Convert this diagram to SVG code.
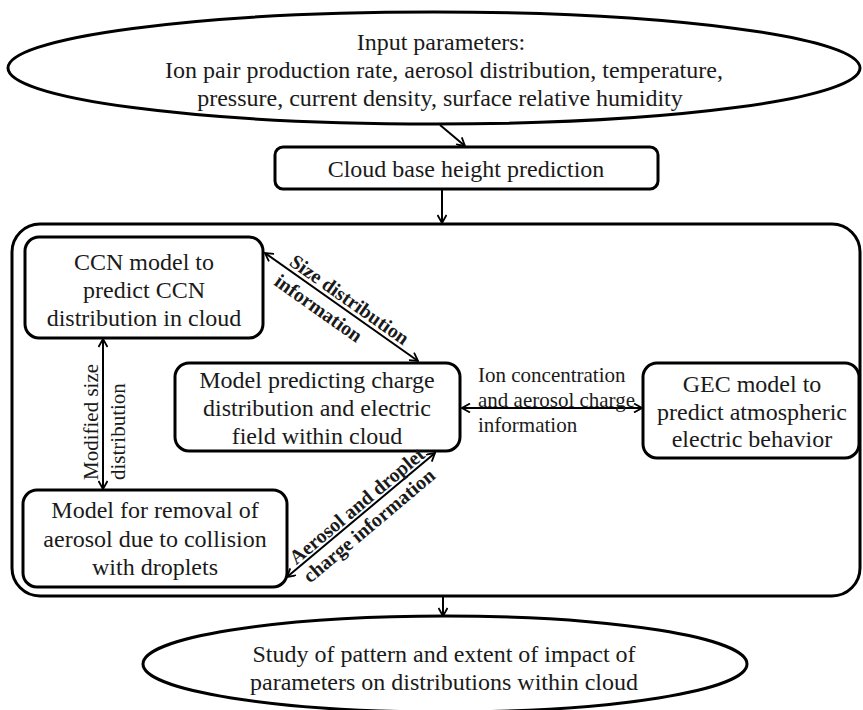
<svg xmlns="http://www.w3.org/2000/svg" width="863" height="710" viewBox="0 0 863 710">
<defs>
<marker id="ah" viewBox="0 0 10 10" refX="9" refY="5" markerWidth="10" markerHeight="10" markerUnits="userSpaceOnUse" orient="auto-start-reverse">
<path d="M1,0.5 L9,5 L1,9.5" fill="none" stroke="#000" stroke-width="1.8"/>
</marker>
</defs>
<style>
.shape{fill:#fff;stroke:#000;stroke-width:3}
.t{font-family:"Liberation Serif","Times New Roman",serif;fill:#1a1a1a;text-anchor:middle;font-size:24px}
.lbl{font-family:"Liberation Serif","Times New Roman",serif;fill:#1a1a1a;font-size:21px}
.dl{font-family:"Liberation Serif","Times New Roman",serif;fill:#1a1a1a;font-size:20px;font-weight:bold;text-anchor:middle}
.c{fill:none;stroke:#000;stroke-width:2}
</style>
<rect width="863" height="710" fill="#fff"/>

<g id="container">
<rect class="shape" x="12" y="224" width="848" height="372" rx="28"/>
</g>

<g id="input">
<ellipse class="shape" cx="434" cy="68" rx="426" ry="56"/>
<text class="t" x="441" y="50">Input parameters:</text>
<text class="t" x="444" y="78">Ion pair production rate, aerosol distribution, temperature,</text>
<text class="t" x="440" y="106">pressure, current density, surface relative humidity</text>
</g>

<g id="cloudbase">
<rect class="shape" x="275" y="147" width="383" height="42" rx="8"/>
<text class="t" x="466" y="177">Cloud base height prediction</text>
</g>

<g id="ccn">
<rect class="shape" x="25" y="237" width="238" height="101" rx="14"/>
<text class="t" x="144" y="270">CCN model to</text>
<text class="t" x="144" y="298">predict CCN</text>
<text class="t" x="144" y="326">distribution in cloud</text>
</g>

<g id="charge">
<rect class="shape" x="175" y="363" width="285" height="88" rx="14"/>
<text class="t" x="317" y="388">Model predicting charge</text>
<text class="t" x="317" y="416">distribution and electric</text>
<text class="t" x="317" y="444">field within cloud</text>
</g>

<g id="gec">
<rect class="shape" x="643" y="363" width="216" height="95" rx="14"/>
<text class="t" x="752" y="392">GEC model to</text>
<text class="t" x="752" y="420">predict atmospheric</text>
<text class="t" x="752" y="447">electric behavior</text>
</g>

<g id="removal">
<rect class="shape" x="23" y="490" width="264" height="97" rx="14"/>
<text class="t" x="155" y="518">Model for removal of</text>
<text class="t" x="155" y="547">aerosol due to collision</text>
<text class="t" x="155" y="575">with droplets</text>
</g>

<g id="study">
<ellipse class="shape" cx="445" cy="664" rx="302" ry="48"/>
<text class="t" x="444" y="662">Study of pattern and extent of impact of</text>
<text class="t" x="444" y="690">parameters on distributions within cloud</text>
</g>

<g id="connectors">
<line class="c" x1="440" y1="125" x2="465" y2="146" marker-end="url(#ah)"/>
<line class="c" x1="442" y1="189" x2="442" y2="223" marker-end="url(#ah)"/>
<line class="c" x1="443" y1="597" x2="443" y2="616" marker-end="url(#ah)"/>
<line class="c" x1="265" y1="253" x2="418" y2="361" marker-start="url(#ah)" marker-end="url(#ah)"/>
<line class="c" x1="287" y1="577" x2="435" y2="453" marker-start="url(#ah)" marker-end="url(#ah)"/>
<line class="c" x1="462" y1="408" x2="642" y2="408" marker-start="url(#ah)" marker-end="url(#ah)"/>
<line class="c" x1="103" y1="339" x2="103" y2="489" marker-start="url(#ah)" marker-end="url(#ah)"/>
<text class="dl" transform="translate(345.7,305.1) rotate(35.2)">Size distribution</text>
<text class="dl" transform="translate(314.7,313.8) rotate(35.2)">information</text>
<text class="dl" transform="translate(361.2,510.9) rotate(-40)">Aerosol and droplet</text>
<text class="dl" transform="translate(373.3,530.7) rotate(-40)">charge information</text>
<text class="lbl" x="478" y="382">Ion concentration</text>
<text class="lbl" x="478" y="407">and aerosol charge</text>
<text class="lbl" x="478" y="432">information</text>
<text class="lbl" transform="translate(98,480) rotate(-90)">Modified size</text>
<text class="lbl" transform="translate(125,480) rotate(-90)">distribution</text>
</g>
</svg>
